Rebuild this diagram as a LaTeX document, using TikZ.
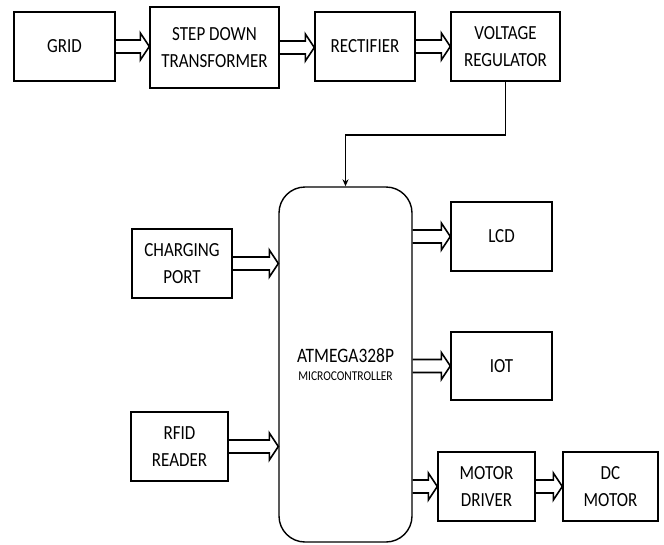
\documentclass[tikz,border=0pt]{standalone}
\usepackage{fontspec}
\setmainfont[FakeStretch=0.85]{Carlito}
\usetikzlibrary{positioning,calc,arrows.meta}
\tikzset{
  block/.style={draw=black, fill=white, line width=1.4pt, align=center,
    minimum width=#1, inner sep=2pt, font=\fontsize{20}{27}\selectfont},
  block/.default=100pt,
  dblarrow/.style={line width=1.6pt, line join=miter, to path={
    ($(\tikztostart)+(0,-6.5)$) -- ($(\tikztotarget)+(-9,-6.5)$) -- ++(0,-7)
    -- (\tikztotarget) -- ++(-9,13.5) -- ++(0,-7) -- ($(\tikztostart)+(0,6.5)$)}},
  feed/.style={-{Stealth[length=7pt,width=6pt]}, line width=1.6pt},
}

\begin{document}
\begin{tikzpicture}[x=1pt, y=-1pt]
  \useasboundingbox (0,0) rectangle (664,544);

  % ---------- supply chain ----------
  \node[block=101pt, minimum height=69pt] (grid) at (64.5,46.5) {GRID};
  \node[block=129pt, minimum height=81pt] (sdt) at (214.5,47.5) {STEP DOWN\\TRANSFORMER};
  \node[block=100pt, minimum height=69pt] (rect) at (365,46.5) {RECTIFIER};
  \node[block=109pt, minimum height=69pt] (vreg) at (505.5,46.5) {VOLTAGE\\REGULATOR};

  % ---------- controller ----------
  \node[draw=black, line width=1.4pt, rounded corners=26pt, minimum width=133pt,
        minimum height=355pt, align=center, font=\fontsize{13.5}{18}\selectfont]
    (mcu) at (345.5,364.5)
    {{\fontsize{20.5}{18}\selectfont ATMEGA328P}\\MICROCONTROLLER};

  % ---------- inputs ----------
  \node[block=100pt, minimum height=69pt] (cport) at (182,263.5) {CHARGING\\PORT};
  \node[block=97pt, minimum height=69pt] (rfid) at (179.5,446.5) {RFID\\READER};

  % ---------- outputs ----------
  \node[block=101pt, minimum height=69pt] (lcd) at (501.5,236.5) {LCD};
  \node[block=101pt, minimum height=68pt] (iot) at (501.5,366) {IOT};
  \node[block=97pt, minimum height=69pt] (mdrv) at (486.5,486.5) {MOTOR\\DRIVER};
  \node[block=95pt, minimum height=69pt] (dcm) at (610.5,486.5) {DC\\MOTOR};

  % ---------- arrows ----------
  \draw[dblarrow] (grid.east) to (grid.east -| sdt.west);
  \draw[dblarrow] (sdt.east) to (sdt.east -| rect.west);
  \draw[dblarrow] (rect.east) to (vreg.west);
  \draw[feed] (vreg.south) -- ++(0,53) -| (mcu.north);
  \draw[dblarrow] (cport.east) to (cport.east -| mcu.west);
  \draw[dblarrow] (rfid.east) to (rfid.east -| mcu.west);
  \draw[dblarrow] (lcd.west -| mcu.east) to (lcd.west);
  \draw[dblarrow] (iot.west -| mcu.east) to (iot.west);
  \draw[dblarrow] (mdrv.west -| mcu.east) to (mdrv.west);
  \draw[dblarrow] (mdrv.east) to (dcm.west);

\end{tikzpicture}
\end{document}
